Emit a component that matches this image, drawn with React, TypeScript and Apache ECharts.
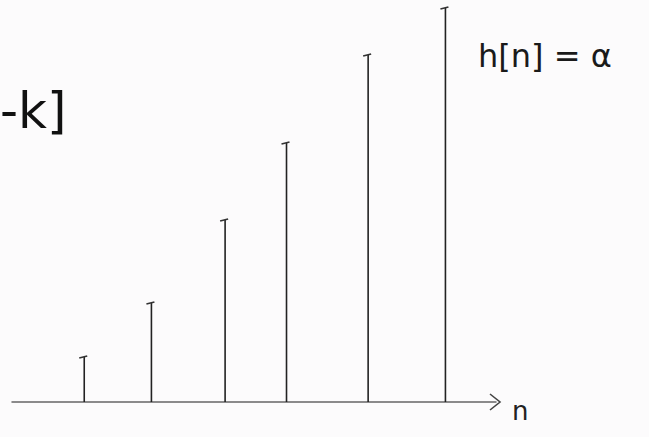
import React, { useEffect, useRef } from "react";
import * as echarts from "echarts";

const positions = [0, 0.93, 1.95, 2.8, 3.93, 5];
const heights = [45, 99, 182, 259, 347, 394];
const equationLabel = "h[n] = α";
const sumLabel = "-k]";
const axisLabel = "n";

export default function App() {
  const ref = useRef<HTMLDivElement>(null);
  useEffect(() => {
    if (!ref.current) return;
    const chart = echarts.init(ref.current, undefined, { renderer: "svg" });
    const data = positions.map((p, i) => [p, heights[i]]);
    chart.setOption({
      animation: false,
      backgroundColor: "#fcfbfc",
      grid: { left: 12, right: 153, top: 2, bottom: 35 },
      xAxis: {
        type: "value",
        min: -1,
        max: 5.7,
        axisLine: {
          show: true,
          symbol: ["none", "none"],
          lineStyle: { color: "#666", width: 1.5 },
        },
        axisTick: { show: false },
        axisLabel: { show: false },
        splitLine: { show: false },
      },
      yAxis: {
        type: "value",
        min: 0,
        max: 400,
        show: false,
      },
      series: [
        {
          type: "custom",
          data,
          renderItem: (params: any, api: any) => {
            const x = api.value(0);
            const y = api.value(1);
            const top = api.coord([x, y]);
            const bot = api.coord([x, 0]);
            return {
              type: "group",
              children: [
                {
                  type: "line",
                  shape: { x1: bot[0], y1: bot[1], x2: top[0], y2: top[1] },
                  style: { stroke: "#222", lineWidth: 1.6 },
                },
                {
                  type: "line",
                  shape: { x1: top[0] - 5, y1: top[1] + 1, x2: top[0] + 3, y2: top[1] - 1 },
                  style: { stroke: "#333", lineWidth: 1.8 },
                },
              ],
            };
          },
        },
      ],
      graphic: [
        {
          type: "polyline",
          shape: { points: [[490, 394], [500, 402], [490, 410]] },
          style: { stroke: "#444", lineWidth: 1.6, fill: "none" },
        },
        {
          type: "text",
          left: 512,
          top: 398,
          style: { text: axisLabel, fontSize: 26, fill: "#222", fontFamily: "DejaVu Sans" },
        },
        {
          type: "text",
          left: 478,
          top: 40,
          style: { text: equationLabel, fontSize: 32, fill: "#1a1a1a", fontFamily: "DejaVu Sans" },
        },
        {
          type: "text",
          left: 0,
          top: 86,
          style: { text: sumLabel, fontSize: 50, fill: "#111", fontFamily: "DejaVu Sans" },
        },
      ],
    });
    return () => chart.dispose();
  }, []);
  return <div ref={ref} style={{ position: "fixed", left: 0, top: 0, width: 649, height: 437 }} />;
}
